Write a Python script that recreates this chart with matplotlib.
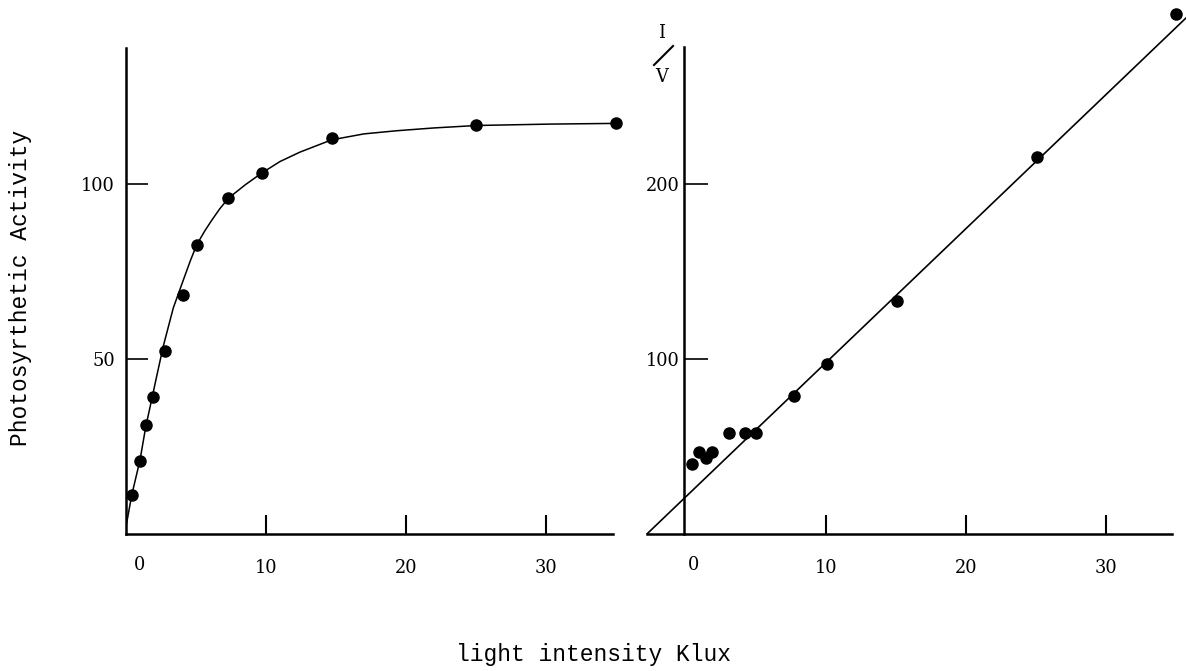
import matplotlib

matplotlib.use("Agg")
import matplotlib.pyplot as plt
from matplotlib.lines import Line2D

# light intensity (Klux) vs photosynthetic activity
left_x = [0.4, 1.0, 1.4, 1.9, 2.8, 4.1, 5.1, 7.3, 9.7, 14.7, 25.0, 35.0]
left_y = [10.9, 20.6, 31.1, 39.1, 52.1, 68.3, 82.5, 95.8, 103.0, 112.9, 116.6, 117.2]

# hand-drawn saturation curve, traced point by point
curve_x = [0.0, 0.41, 1.0, 1.41, 1.9, 2.14, 2.66, 3.38, 4.1, 4.6, 5.05, 5.6, 6.12,
           6.7, 7.31, 8.5, 9.69, 11.0, 12.43, 14.69, 17.0, 19.34, 22.0, 25.05,
           30.3, 35.05]
curve_y = [2.0, 11.0, 21.0, 30.5, 39.5, 44.0, 53.5, 64.5, 72.5, 78.0, 82.5, 86.3, 89.5,
           92.8, 95.8, 99.6, 103.0, 106.3, 109.0, 112.5, 114.2, 115.1, 115.9, 116.6,
           117.0, 117.2]

# I/V against I
right_x = [0.4, 0.95, 1.4, 1.85, 3.1, 4.2, 5.0, 7.7, 10.1, 15.1, 25.1, 35.0]
right_y = [39.8, 46.8, 43.0, 46.8, 57.7, 57.7, 57.3, 78.8, 96.9, 132.9, 215.0, 296.9]
fit_x = [-2.76, 35.7]
fit_y = [0.0, 294.5]

x_ticks = [10, 20, 30]
left_yticks = [50, 100]
right_yticks = [100, 200]

MONO = "Liberation Mono"
SERIF = "DejaVu Serif"
TICK_SIZE = 12.8
LABEL_SIZE = 16.5

fig = plt.figure(figsize=(11.86, 6.71), dpi=100)
fig.patch.set_facecolor("white")

# 14 px per Klux on both panels, x axis at 533.6 px from the top
ax1 = fig.add_axes([126 / 1186, 0.2048, 504 / 1186, 0.7824])
ax2 = fig.add_axes([644 / 1186, 0.2048, 543.2 / 1186, 0.7955])


def style_axes(ax, xb, yb, yticks, ypad, ytick_len):
    for side in ("top", "right"):
        ax.spines[side].set_visible(False)
    ax.spines["bottom"].set_bounds(*xb)
    ax.spines["left"].set_bounds(*yb)
    ax.spines["bottom"].set_linewidth(1.8)
    ax.spines["left"].set_linewidth(1.8)
    ax.patch.set_alpha(0)
    ax.set_xticks(x_ticks)
    ax.set_xticklabels([str(t) for t in x_ticks], fontfamily=SERIF, fontsize=TICK_SIZE)
    ax.set_yticks(yticks)
    ax.set_yticklabels([str(t) for t in yticks], fontfamily=SERIF, fontsize=TICK_SIZE)
    ax.tick_params(axis="x", direction="in", length=14, width=1.5, pad=18)
    ax.tick_params(axis="y", direction="in", length=ytick_len, width=1.2, pad=ypad)


# left panel
ax1.plot(curve_x, curve_y, color="black", lw=1.1)
ax1.plot(left_x, left_y, "o", color="black", ms=8)
ax1.set_xlim(0, 36)
ax1.set_ylim(0, 150)
style_axes(ax1, (0, 34.8), (0, 138.7), left_yticks, 8, 16)
ax1.text(0.93, -8.9, "0", ha="center", va="center", fontfamily=SERIF, fontsize=TICK_SIZE)

# right panel
ax2.plot(fit_x, fit_y, color="black", lw=1.2)
ax2.plot(right_x, right_y, "o", color="black", ms=8)
ax2.set_xlim(-3, 35.8)
ax2.set_ylim(0, 305)
ax2.spines["left"].set_position(("data", -0.13))
style_axes(ax2, (-2.76, 34.7), (0, 278.2), right_yticks, 3, 17)
ax2.text(0.57, -17.8, "0", ha="center", va="center", fontfamily=SERIF, fontsize=TICK_SIZE)

# I / V label written as a slanted fraction
fig.text(662 / 1186, 1 - 33 / 671, "I", ha="center", va="center",
         fontfamily=SERIF, fontsize=TICK_SIZE)
fig.text(662 / 1186, 1 - 77 / 671, "V", ha="center", va="center",
         fontfamily=SERIF, fontsize=TICK_SIZE)
fig.add_artist(Line2D([654 / 1186, 673 / 1186], [1 - 65 / 671, 1 - 46 / 671],
                      color="black", lw=1.5, transform=fig.transFigure))

fig.text(21 / 1186, 1 - 288 / 671, "Photosyrthetic Activity", rotation=90,
         ha="center", va="center", fontfamily=MONO, fontsize=LABEL_SIZE)
fig.text(593 / 1186, 1 - 655 / 671, "light intensity Klux",
         ha="center", va="center", fontfamily=MONO, fontsize=LABEL_SIZE)

fig.savefig("out.png", dpi=100, facecolor="white")
